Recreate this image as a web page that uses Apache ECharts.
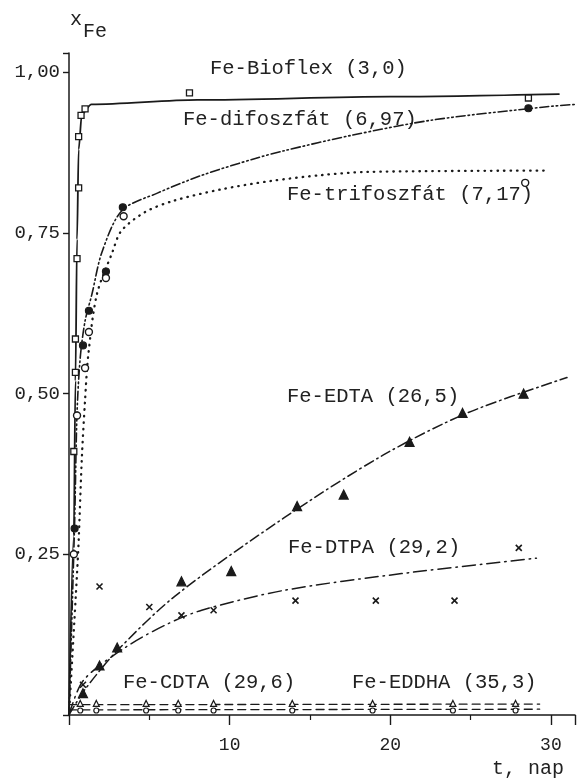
<!DOCTYPE html>
<html>
<head>
<meta charset="utf-8">
<script src="https://cdn.jsdelivr.net/npm/echarts@6/dist/echarts.min.js"></script>
<style>html,body{margin:0;padding:0;background:#fff}#c{width:580px;height:778px}</style>
</head>
<body>
<div id="c"></div>
<script>
// ---- data (t in days, x_Fe fraction) ----
const yTickLabels = {"0.25":"0,25","0.5":"0,50","0.75":"0,75","1":"1,00"};
const xTickLabels = {"10":"10","20":"20","30":"30"};

// measured points
const bioflexT = [0.3, 0.4, 0.4, 0.5, 0.6, 0.6, 0.75, 1.0, 7.5, 28.6];
const bioflexX = [0.41, 0.533, 0.585, 0.71, 0.82, 0.90, 0.933, 0.943, 0.968, 0.96];
const difoT = [0.35, 0.87, 1.24, 2.3, 3.35, 28.6];
const difoX = [0.29, 0.575, 0.629, 0.69, 0.79, 0.944];
const trifoT = [0.3, 0.5, 1.0, 1.24, 2.3, 3.4, 28.4];
const trifoX = [0.25, 0.466, 0.54, 0.596, 0.68, 0.776, 0.828];
const edtaT = [0.87, 1.9, 3.0, 7.0, 10.1, 14.2, 17.1, 21.2, 24.5, 28.3];
const edtaX = [0.034, 0.077, 0.105, 0.208, 0.224, 0.325, 0.343, 0.425, 0.47, 0.50];
const dtpaT = [0.87, 1.9, 5.0, 7.0, 9.0, 14.1, 19.1, 24.0, 28.0];
const dtpaX = [0.047, 0.2, 0.168, 0.155, 0.163, 0.178, 0.178, 0.178, 0.26];
const cdtaT = [0.7, 1.7, 4.8, 6.8, 9.0, 13.9, 18.9, 23.9, 27.8];
const cdtaX = [0.018, 0.018, 0.018, 0.018, 0.018, 0.018, 0.018, 0.018, 0.018];
const eddhaT = [0.7, 1.7, 4.8, 6.8, 9.0, 13.9, 18.9, 23.9, 27.8];
const eddhaX = [0.007, 0.007, 0.007, 0.007, 0.007, 0.007, 0.007, 0.007, 0.007];

// fitted curves
const bioflexCurveT = [0, 0.3, 0.4, 0.5, 0.6, 0.8, 1.4, 8, 20, 30.5];
const bioflexCurveX = [0, 0.28, 0.52, 0.74, 0.88, 0.935, 0.95, 0.957, 0.962, 0.966];
const difoCurveT = [0, 0.35, 0.5, 0.7, 1.0, 1.43, 2.05, 3.3, 5.5, 8.3, 11.6, 13.4, 17.6, 22.7, 29.6, 31.5];
const difoCurveX = [0, 0.3, 0.47, 0.556, 0.613, 0.655, 0.72, 0.785, 0.812, 0.84, 0.866, 0.878, 0.902, 0.926, 0.946, 0.95];
const trifoCurveT = [0, 0.5, 0.6, 0.8, 1.0, 1.2, 1.74, 2.7, 3.25, 4.7, 6.5, 9.5, 12.6, 15.7, 18.6, 29.7];
const trifoCurveX = [0, 0.22, 0.27, 0.40, 0.49, 0.56, 0.655, 0.72, 0.753, 0.782, 0.800, 0.818, 0.831, 0.840, 0.845, 0.847];
const edtaCurveT = [0, 1, 3, 6.6, 13.4, 19.6, 24.8, 31];
const edtaCurveX = [0, 0.04, 0.1, 0.185, 0.307, 0.405, 0.47, 0.525];
const dtpaCurveT = [0, 0.9, 3.5, 6, 8.26, 13.4, 20.7, 29.1];
const dtpaCurveX = [0, 0.054, 0.105, 0.14, 0.163, 0.194, 0.22, 0.244];
const cdtaCurveT = [0, 29.3];
const cdtaCurveX = [0.016, 0.017];
const eddhaCurveT = [0, 29.3];
const eddhaCurveX = [0.008, 0.009];

const pairs = (a, b) => a.map((v, i) => [v, b[i]]);
const INK = '#1a1a1a';
const MONO = '"Liberation Mono", "DejaVu Sans Mono", monospace';

function curve(name, t, x, dash, width, mono) {
  const s = {
    name, type: 'line', data: pairs(t, x), symbol: 'none', smooth: 0.3,
    z: 2, silent: true,
    lineStyle: { color: INK, width: width || 1.4, type: dash, cap: 'round' }
  };
  if (mono) s.smoothMonotone = 'x';
  return s;
}
function marks(name, t, x, symbol, size, filled, bw) {
  return {
    name, type: 'scatter', data: pairs(t, x), symbol, symbolSize: size, z: 4, silent: true,
    itemStyle: { color: filled ? INK : '#fff', borderColor: INK, borderWidth: bw || 1.2, opacity: 1 }
  };
}

const chart = echarts.init(document.getElementById('c'), null, { renderer: 'canvas' });
chart.setOption({
  animation: false,
  backgroundColor: '#fff',
  grid: { left: 69, right: 5, top: 53, bottom: 63, containLabel: false },
  xAxis: {
    type: 'value', min: 0, max: 31.5, interval: 10,
    axisLine: { show: true, onZero: false, lineStyle: { color: INK, width: 1.5 } },
    axisTick: { show: true, inside: false, length: 10, lineStyle: { color: INK, width: 1.4 } },
    minorTick: { show: true, splitNumber: 2, length: 5, lineStyle: { color: INK, width: 1.2 } },
    splitLine: { show: false },
    axisLabel: {
      margin: 21, color: '#222', fontFamily: MONO, fontSize: 18,
      formatter: v => xTickLabels[String(v)] || ''
    }
  },
  yAxis: {
    type: 'value', min: 0, max: 1.03, interval: 0.25,
    axisLine: { show: true, onZero: false, lineStyle: { color: INK, width: 1.5 } },
    axisTick: { show: true, length: 6, lineStyle: { color: INK, width: 1.4 } },
    splitLine: { show: false },
    axisLabel: {
      margin: 9, color: '#222', fontFamily: MONO, fontSize: 19,
      formatter: v => yTickLabels[String(+v.toFixed(2))] || ''
    }
  },
  series: [
    curve('Fe-Bioflex', bioflexCurveT, bioflexCurveX, 'solid', 1.8, true),
    curve('Fe-difoszfát', difoCurveT, difoCurveX, [9, 3, 1.5, 3, 1.5, 3], 1.6),
    curve('Fe-trifoszfát', trifoCurveT, trifoCurveX, [0.5, 6], 2.3),
    curve('Fe-EDTA', edtaCurveT, edtaCurveX, [10, 4, 1.5, 4], 1.5),
    curve('Fe-DTPA', dtpaCurveT, dtpaCurveX, [13, 5, 1.5, 5], 1.5),
    curve('Fe-CDTA', cdtaCurveT, cdtaCurveX, [8, 5], 1.3),
    curve('Fe-EDDHA', eddhaCurveT, eddhaCurveX, [8, 5], 1.3),
    marks('Fe-Bioflex pts', bioflexT, bioflexX, 'rect', 6, false, 1.3),
    marks('Fe-difoszfát pts', difoT, difoX, 'circle', 7, true),
    marks('Fe-trifoszfát pts', trifoT, trifoX, 'circle', 7, false, 1.4),
    marks('Fe-EDTA pts', edtaT, edtaX, 'triangle', 9, true),
    marks('Fe-DTPA pts', dtpaT, dtpaX, 'path://M0,0L10,10M10,0L0,10', 6, true, 1.6),
    marks('Fe-CDTA pts', cdtaT, cdtaX, 'triangle', 6, false, 1.2),
    marks('Fe-EDDHA pts', eddhaT, eddhaX, 'circle', 5, false, 1.2)
  ],
  graphic: [
    { type: 'text', left: 70, top: 10, style: { text: 'x', font: '20px ' + MONO, fill: '#222' } },
    { type: 'text', left: 83, top: 22, style: { text: 'Fe', font: '20px ' + MONO, fill: '#222' } },
    { type: 'text', left: 210, top: 58, style: { text: 'Fe-Bioflex (3,0)', font: '20.5px ' + MONO, fill: '#222' } },
    { type: 'text', left: 183, top: 109, style: { text: 'Fe-difoszfát (6,97)', font: '20.5px ' + MONO, fill: '#222' } },
    { type: 'text', left: 287, top: 184, style: { text: 'Fe-trifoszfát (7,17)', font: '20.5px ' + MONO, fill: '#222' } },
    { type: 'text', left: 287, top: 386, style: { text: 'Fe-EDTA (26,5)', font: '20.5px ' + MONO, fill: '#222' } },
    { type: 'text', left: 288, top: 537, style: { text: 'Fe-DTPA (29,2)', font: '20.5px ' + MONO, fill: '#222' } },
    { type: 'text', left: 123, top: 672, style: { text: 'Fe-CDTA (29,6)', font: '20.5px ' + MONO, fill: '#222' } },
    { type: 'text', left: 352, top: 672, style: { text: 'Fe-EDDHA (35,3)', font: '20.5px ' + MONO, fill: '#222' } },
    { type: 'text', left: 492, top: 759, style: { text: 't, nap', font: '20px ' + MONO, fill: '#222' } }
  ]
});
</script>
</body>
</html>
